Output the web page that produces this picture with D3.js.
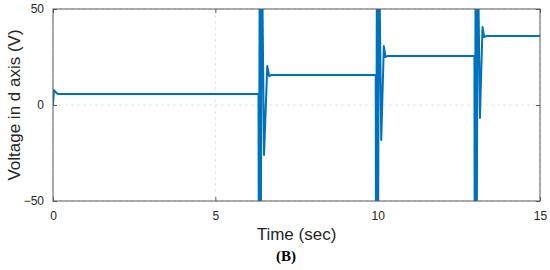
<!DOCTYPE html>
<html>
<head>
<meta charset="utf-8">
<script src="https://cdn.jsdelivr.net/npm/d3@7"></script>
<style>
  body { margin: 0; background: #fff; }
  svg { display: block; font-family: "Liberation Sans", Arial, sans-serif; }
</style>
</head>
<body>
<div id="chart"></div>
<script>
// d-axis voltage response
var timeSec = [0, 0.03, 0.10, 0.16,
  6.33, 6.34, 6.37, 6.40, 6.43, 6.50, 6.60, 6.66, 6.72,
  9.94, 9.95, 9.98, 10.01, 10.04, 10.11, 10.19, 10.24, 10.30,
  12.98, 12.99, 13.02, 13.05, 13.08, 13.15, 13.23, 13.28, 13.34, 15];
var voltD = [0, 7.8, 6.4, 5.7,
  5.7, -90, 90, -90, 90, -26, 20.3, 15.0, 15.6,
  15.6, -90, 90, -90, 90, -18.2, 30.7, 25.0, 25.5,
  25.5, -90, 90, -90, 90, -6.8, 40.6, 35.4, 35.9, 35.9];
var xTicks = [0, 5, 10, 15];
var yTicks = [-50, 0, 50];

var svg = d3.select("#chart").append("svg").attr("width", 550).attr("height", 270),
  margin = {top: 9, right: 10, bottom: 69, left: 53},
  width = +svg.attr("width") - margin.left - margin.right,
  height = +svg.attr("height") - margin.top - margin.bottom,
  g = svg.append("g").attr("transform", "translate(" + margin.left + "," + margin.top + ")");

var x = d3.scaleLinear().domain([0, 15]).range([0, width]);
var y = d3.scaleLinear().domain([-50, 50]).range([height, 0]);

svg.append("defs").append("clipPath").attr("id", "clip")
  .append("rect").attr("width", width).attr("height", height);

// grid
g.selectAll(".gx").data(xTicks).enter().append("line")
  .attr("x1", function (d) { return x(d); }).attr("x2", function (d) { return x(d); })
  .attr("y1", 0).attr("y2", height)
  .attr("stroke", "#e4e4e4").attr("stroke-dasharray", "3,3");
g.selectAll(".gy").data(yTicks).enter().append("line")
  .attr("y1", function (d) { return y(d); }).attr("y2", function (d) { return y(d); })
  .attr("x1", 0).attr("x2", width)
  .attr("stroke", "#e4e4e4").attr("stroke-dasharray", "3,3");

var pts = timeSec.map(function (t, i) { return [t, voltD[i]]; });
var line = d3.line().x(function (d) { return x(d[0]); }).y(function (d) { return y(d[1]); });

g.append("path")
  .datum(pts)
  .attr("clip-path", "url(#clip)")
  .attr("fill", "none")
  .attr("stroke", "#0072bd")
  .attr("stroke-width", 2)
  .attr("stroke-linejoin", "round")
  .attr("d", line);

// axes (ticks pointing inward, MATLAB style)
var axisColor = "#5a5a5a";
function styleAxis(sel) {
  sel.select(".domain").remove();
  sel.selectAll(".tick line").attr("stroke", axisColor);
  sel.selectAll(".tick text").attr("fill", "#262626").style("font-size", "12px");
}
g.append("g").attr("transform", "translate(0," + height + ")")
  .call(d3.axisBottom(x).tickValues(xTicks).tickSizeInner(-4).tickSizeOuter(0).tickPadding(10))
  .call(styleAxis);
g.append("g")
  .call(d3.axisLeft(y).tickValues(yTicks).tickSizeInner(-4).tickSizeOuter(0).tickPadding(9)
    .tickFormat(function (d) { return d < 0 ? "\u2212" + Math.abs(d) : d; }))
  .call(styleAxis);
g.append("g").attr("transform", "translate(" + width + ",0)")
  .call(d3.axisRight(y).tickValues(yTicks).tickSizeInner(-4).tickSizeOuter(0).tickFormat(""))
  .call(styleAxis);
g.append("g")
  .call(d3.axisTop(x).tickValues(xTicks).tickSizeInner(-4).tickSizeOuter(0).tickFormat(""))
  .call(styleAxis);

g.append("rect").attr("width", width).attr("height", height)
  .attr("fill", "none").attr("stroke", axisColor).attr("stroke-width", 1);

// labels
svg.append("text")
  .attr("transform", "translate(20," + (margin.top + height / 2) + ") rotate(-90)")
  .attr("text-anchor", "middle")
  .style("font-size", "17px").attr("fill", "#262626")
  .text("Voltage in d axis (V)");
svg.append("text")
  .attr("x", margin.left + width / 2).attr("y", 240)
  .attr("text-anchor", "middle")
  .style("font-size", "17px").attr("fill", "#262626")
  .text("Time (sec)");
svg.append("text")
  .attr("x", 286).attr("y", 261)
  .attr("text-anchor", "middle")
  .style("font-family", "'Liberation Serif', 'DejaVu Serif', serif")
  .style("font-size", "15px").style("font-weight", "bold")
  .text("(B)");
</script>
</body>
</html>
